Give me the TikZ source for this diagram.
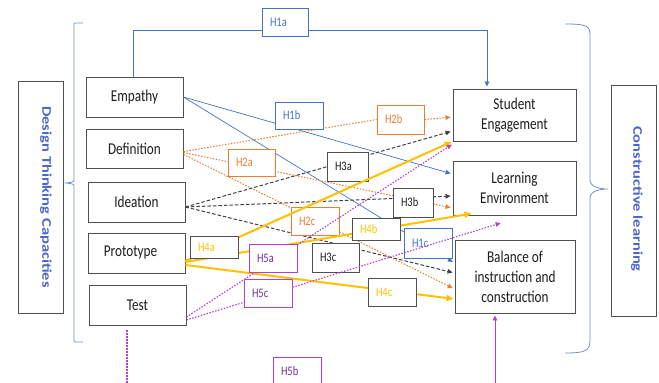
\documentclass[tikz,border=0pt]{standalone}
\usepackage{fontspec}
\usepackage{graphicx}
\setmainfont{Carlito}[FakeStretch=0.8]
\newfontfamily\titlefont{Carlito}
\usetikzlibrary{arrows.meta}
\definecolor{cBlue}{HTML}{4472C4}
\definecolor{cBrk}{HTML}{7090D0}
\definecolor{cTitle}{HTML}{4A66C8}
\definecolor{cOrange}{HTML}{ED7D31}
\definecolor{cDark}{HTML}{404040}
\definecolor{cYellow}{HTML}{FFC000}
\definecolor{cPurple}{HTML}{B040D0}
\definecolor{cPText}{HTML}{7030A0}
\definecolor{cGray}{HTML}{505050}
\definecolor{cText}{HTML}{1E1E1E}
\tikzset{
  mainbox/.style={draw=cGray, line width=0.9pt, fill=white, align=center,
    font=\fontsize{16.5}{20}\selectfont, text=cText, inner sep=0pt},
  hbox/.style 2 args={draw=#1, text=#2, line width=0.9pt, fill=white,
    text width=32pt, inner xsep=8pt, inner ysep=0pt, align=left,
    font=\fontsize{13}{14}\selectfont, minimum width=48pt},
  tip/.style={-{Triangle[length=5pt,width=4.5pt]}, shorten >=2pt},
  bigtip/.style={-{Triangle[length=7pt,width=6pt]}, shorten >=1pt},
  blueln/.style={draw=cBlue, line width=0.7pt},
  brk/.style={draw=cBrk, line width=0.8pt},
  orln/.style={draw=cOrange, line width=1pt, dash pattern=on 1.5pt off 1.5pt},
  dkln/.style={draw=cDark, line width=1pt, dash pattern=on 3.5pt off 2pt},
  yeln/.style={draw=cYellow, line width=2pt},
  puln/.style={draw=cPurple, line width=1.1pt, dash pattern=on 1.5pt off 1.5pt},
  pusolid/.style={draw=cPurple, line width=0.8pt},
  titletext/.style={rotate=-90, text=cTitle, inner sep=0pt},
}
\begin{document}
\begin{tikzpicture}[x=1pt,y=-1pt]
\useasboundingbox (0,0) rectangle (659,383);
\clip (0,0) rectangle (659,383);

% side title boxes
\node[draw=cGray, line width=0.9pt, minimum width=45pt, minimum height=232pt] (dtc) at (40.5,197) {};
\node[titletext] (dtct) at (46,197) {\scalebox{1}[0.8]{\titlefont\bfseries\fontsize{16.5}{20}\selectfont Design Thinking Capacities}};
\node[draw=cGray, line width=0.9pt, minimum width=45pt, minimum height=231pt] (cl) at (633.5,200.5) {};
\node[titletext] (clt) at (637,199) {\scalebox{1}[0.8]{\titlefont\bfseries\fontsize{16.5}{20}\selectfont Constructive learning}};

% brackets
\draw[brk] (83,23) -- (76,23) .. controls (74,23) .. (74,25) -- (74,179)
  .. controls (74,182) .. (66,183) .. controls (74,184) .. (74,187) -- (74,340)
  .. controls (74,342) .. (76,342) -- (83,342);
\draw[brk] (565,24) .. controls (588,24) and (590,26) .. (590,36) -- (590,180)
  .. controls (590,187) and (600,189) .. (608,189) .. controls (600,189) and (590,191) .. (590,198)
  -- (590,340) .. controls (590,351) and (585,353) .. (565,353);

% main boxes
\node[mainbox, minimum width=97pt, minimum height=40pt] (emp) at (134.5,97) {Empathy};
\node[mainbox, minimum width=97pt, minimum height=39pt] (def) at (134.5,148.5) {Definition};
\node[mainbox, minimum width=97pt, minimum height=40pt] (ide) at (136.5,202) {Ideation};
\node[mainbox, minimum width=97pt, minimum height=40pt] (pro) at (136.5,253) {Prototype\hspace*{12pt}};
\node[mainbox, minimum width=97pt, minimum height=40pt] (tst) at (137.5,305) {Test};
\node[mainbox, minimum width=123pt, minimum height=52pt] (se) at (514.5,115) {Student\\Engagement};
\node[mainbox, minimum width=123pt, minimum height=54pt] (le) at (514.5,188) {Learning\\Environment};
\node[mainbox, minimum width=120pt, minimum height=73pt] (bal) at (515,276.5) {Balance of\\instruction and\\construction};

\coordinate (h1aline) at (133,30);

% blue connectors (H1)
\draw[blueln, tip] ([xshift=-1.5pt]emp.north) |- (h1aline) -| ([xshift=-27.5pt]se.north);
\draw[blueln, tip] (emp.east) -- ([yshift=14pt]le.west);
\draw[blueln, tip] (emp.east) -- ([yshift=13.5pt]bal.west);

% orange connectors (H2)
\node[hbox={cOrange}{cOrange}, minimum width=47pt, text width=31pt, minimum height=29pt] (h2b) at (400.5,119.5) {H2b};
\draw[orln] ([yshift=-3pt]def.east) -- (h2b.west);
\draw[orln, tip] (h2b.east) -- ([yshift=-2pt]se.west);
\draw[orln, tip] ([yshift=-4pt]def.east) -- ([yshift=-20pt]le.west);
\draw[orln, tip] ([yshift=-6pt]def.east) -- ([yshift=-12.5pt]bal.west);

% dark connectors (H3)
\draw[dkln, tip] ([yshift=-5pt]ide.east) -- ([yshift=-16pt]se.west);
\draw[dkln, tip] ([yshift=-5pt]ide.east) -- ([yshift=-8pt]le.west);
\draw[dkln, tip] ([yshift=-5pt]ide.east) -- ([yshift=3.5pt]bal.west);

% label boxes H1-H3
\node[hbox={cBlue}{cBlue}, minimum width=46pt, text width=30pt, minimum height=28pt] (h1a) at (285,22) {H1a};
\node[hbox={cBlue}{cBlue}, minimum height=27pt] (h1b) at (299,115.5) {H1b};
\node[hbox={cBlue}{cBlue}, minimum height=30pt] (h1c) at (428,243) {H1c};
\node[hbox={cOrange}{cOrange}, minimum width=47pt, text width=31pt, minimum height=27pt] (h2a) at (251.5,162.5) {H2a};
\node[hbox={cOrange}{cOrange}, minimum height=28pt] (h2c) at (315,221) {H2c};
\node[hbox={cGray}{cText}, minimum width=41pt, text width=25pt, minimum height=29pt] (h3a) at (347.5,166.5) {H3a};
\node[hbox={cGray}{cText}, minimum width=40pt, text width=24pt, minimum height=29pt] (h3b) at (413,202.5) {H3b};
\node[hbox={cGray}{cText}, minimum width=47pt, text width=31pt, minimum height=29pt] (h3c) at (335.5,257.5) {H3c};

% yellow connectors (H4)
\draw[yeln, bigtip] ([yshift=-8pt]pro.east) -- (se.south west);
\draw[yeln, bigtip] ([yshift=-9pt]pro.east) -- ([xshift=20pt,yshift=2pt]le.south west);
\draw[yeln, bigtip] ([yshift=-12pt]pro.east) -- ([yshift=-22.5pt]bal.west);

\node[hbox={cGray}{cYellow}, minimum height=22pt] (h4a) at (214,247) {H4a};
\node[hbox={cGray}{cYellow}, minimum height=22pt] (h4b) at (376,229) {H4b};
\node[hbox={cGray}{cYellow}, minimum height=28pt] (h4c) at (392,292) {H4c};

% purple connectors (H5)
\draw[puln, tip] ([yshift=-12pt]tst.east) -- ([xshift=1pt,yshift=-2pt]se.south west);
\node[hbox={cPurple}{cPText}, minimum height=28pt] (h5a) at (273,258) {H5a};
\node[hbox={cPurple}{cPText}, minimum height=28pt] (h5b) at (297,371) {H5b};
\draw[puln] ([xshift=-10.5pt,yshift=-5pt]tst.south) |- ([yshift=-10pt]h5b.south) -- (h5b.south);
\draw[pusolid, tip] (h5b.south) -- ++(0,10) -| ([xshift=-20pt]bal.south);
\draw[puln, tip] ([yshift=-15pt]tst.east) -- ([xshift=50pt,yshift=-7pt]le.south west);
\node[hbox={cPurple}{cPText}, minimum height=28pt] (h5c) at (268,293) {H5c};
\end{tikzpicture}
\end{document}
